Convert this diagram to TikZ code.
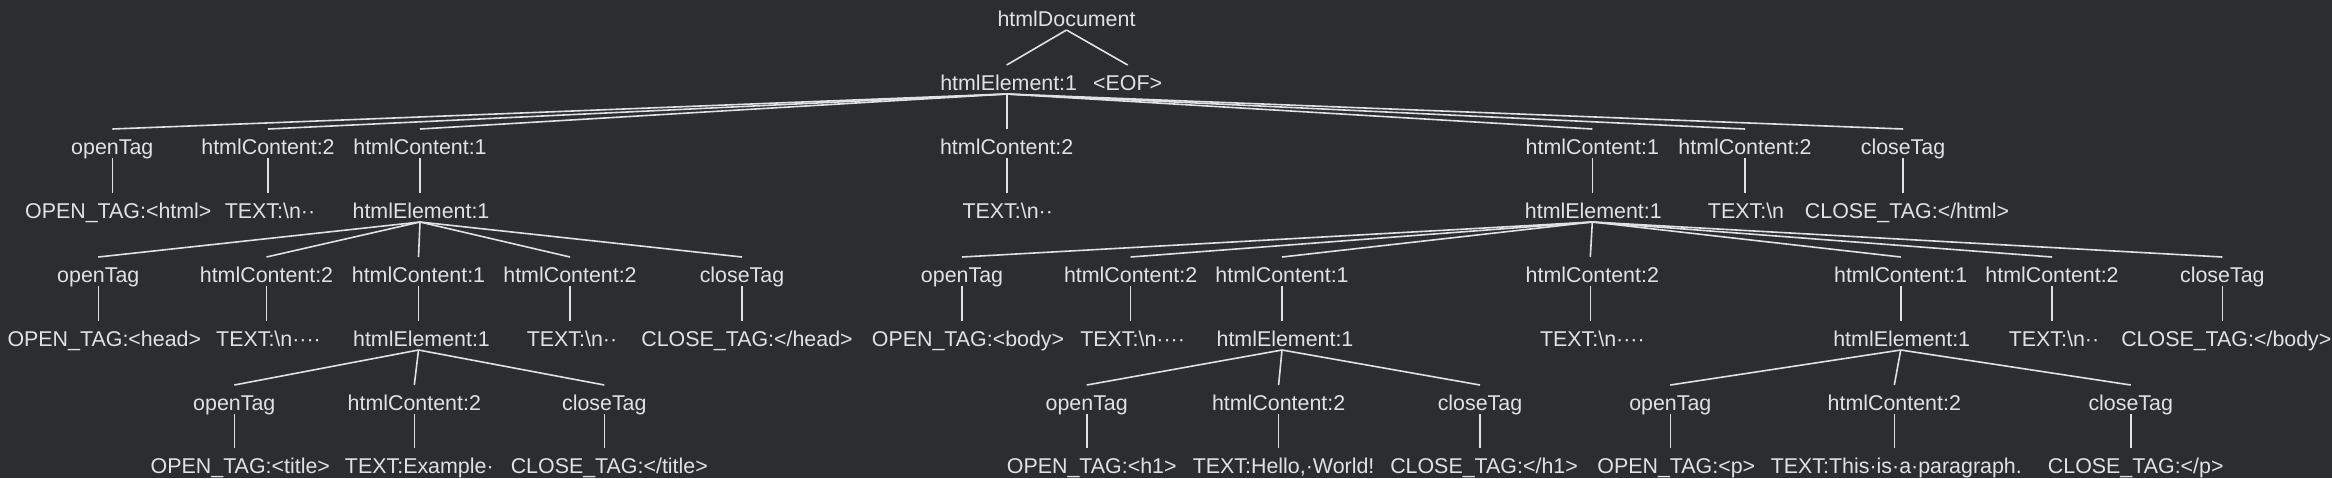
\documentclass[tikz,border=0pt]{standalone}
\usepackage{fontspec}
\setmainfont{Liberation Sans}
\definecolor{bg}{HTML}{2B2D30}
\definecolor{fg}{HTML}{DFE1E5}
\newcommand\sh[1]{\hspace*{#1pt}}
\newcommand\bs{\textbackslash}
\begin{document}
\begin{tikzpicture}[x=0.5pt,y=-0.5pt,
  tn/.style={anchor=base, inner sep=0pt, outer sep=0pt, text height=12.5pt, text depth=2pt, text=fg, font=\fontsize{10.7}{12}\selectfont},
  edge/.style={draw=fg, line width=0.8pt}]
\fill[bg] (0,0) rectangle (2332,478);
\useasboundingbox (0,0) rectangle (2332,478);
% row 0
\node[tn] (r0) at (1066.5,26) {htmlDocument};
% row 1
\node[tn] (r1a) at (1006.7,90) {\sh{2}htmlElement:1};
\node[tn] (r1b) at (1127.7,90) {<EOF>};
% row 2
\node[tn] (p1) at (112.3,154) {openTag};
\node[tn] (p2) at (268,154) {htmlContent:2};
\node[tn] (p3) at (420,154) {htmlContent:1};
\node[tn] (p4) at (1006.7,154) {htmlContent:2};
\node[tn] (p5) at (1592.3,154) {htmlContent:1};
\node[tn] (p6) at (1745,154) {htmlContent:2};
\node[tn] (p7) at (1903,154) {closeTag};
% row 3
\node[tn] (q1) at (112.3,218) {\sh{6}OPEN\_TAG:<html>};
\node[tn] (q2) at (268,218) {\sh{2}TEXT:\bs n··};
\node[tn] (q3) at (420,218) {\sh{1}htmlElement:1};
\node[tn] (q4) at (1006.7,218) {\sh{1}TEXT:\bs n··};
\node[tn] (q5) at (1592.3,218) {\sh{1}htmlElement:1};
\node[tn] (q6) at (1745,218) {\sh{1}TEXT:\bs n};
\node[tn] (q7) at (1903,218) {\sh{4}CLOSE\_TAG:</html>};
% row 4
\node[tn] (s1) at (98.3,282) {openTag};
\node[tn] (s2) at (266.5,282) {htmlContent:2};
\node[tn] (s3) at (418.5,282) {htmlContent:1};
\node[tn] (s4) at (570,282) {htmlContent:2};
\node[tn] (s5) at (742,282) {closeTag};
\node[tn] (s6) at (962,282) {openTag};
\node[tn] (s7) at (1130.6,282) {htmlContent:2};
\node[tn] (s8) at (1282,282) {htmlContent:1};
\node[tn] (s9) at (1590.3,282) {\sh{2}htmlContent:2};
\node[tn] (s10) at (1900.7,282) {htmlContent:1};
\node[tn] (s11) at (2052,282) {htmlContent:2};
\node[tn] (s12) at (2222.3,282) {closeTag};
% row 5
\node[tn] (t1) at (98.3,346) {\sh{6}OPEN\_TAG:<head>};
\node[tn] (t2) at (266.5,346) {\sh{2}TEXT:\bs n····};
\node[tn] (t3) at (418.5,346) {\sh{3}htmlElement:1};
\node[tn] (t4) at (570,346) {\sh{2}TEXT:\bs n··};
\node[tn] (t5) at (742,346) {\sh{5}CLOSE\_TAG:</head>};
\node[tn] (t6) at (962,346) {\sh{6}OPEN\_TAG:<body>};
\node[tn] (t7) at (1130.6,346) {\sh{2}TEXT:\bs n····};
\node[tn] (t8) at (1282,346) {\sh{3}htmlElement:1};
\node[tn] (t9) at (1590.3,346) {\sh{2}TEXT:\bs n····};
\node[tn] (t10) at (1900.7,346) {\sh{1}htmlElement:1};
\node[tn] (t11) at (2052,346) {\sh{2}TEXT:\bs n··};
\node[tn] (t12) at (2222.3,346) {\sh{4}CLOSE\_TAG:</body>};
% row 6
\node[tn] (u1) at (234.3,410) {openTag};
\node[tn] (u2) at (414.3,410) {htmlContent:2};
\node[tn] (u3) at (604.3,410) {closeTag};
\node[tn] (u4) at (1086.7,410) {openTag};
\node[tn] (u5) at (1278.6,410) {htmlContent:2};
\node[tn] (u6) at (1480,410) {closeTag};
\node[tn] (u7) at (1670.3,410) {openTag};
\node[tn] (u8) at (1894.3,410) {htmlContent:2};
\node[tn] (u9) at (2130.7,410) {closeTag};
% row 7
\node[tn] (v1) at (234.3,473) {\sh{6}OPEN\_TAG:<title>};
\node[tn] (v2) at (414.3,473) {\sh{5}TEXT:Example·};
\node[tn] (v3) at (604.3,473) {\sh{5}CLOSE\_TAG:</title>};
\node[tn] (v4) at (1086.7,473) {\sh{5}OPEN\_TAG:<h1>};
\node[tn] (v5) at (1278.6,473) {\sh{5}TEXT:Hello,·World!};
\node[tn] (v6) at (1480,473) {\sh{4}CLOSE\_TAG:</h1>};
\node[tn] (v7) at (1670.3,473) {\sh{6}OPEN\_TAG:<p>};
\node[tn] (v8) at (1894.3,473) {\sh{2}TEXT:This·is·a·paragraph.};
\node[tn] (v9) at (2130.7,473) {\sh{5}CLOSE\_TAG:</p>};
% edges
\draw[edge] (r0.south) -- (r1a.north);
\draw[edge] (r0.south) -- (r1b.north);
\foreach \c in {p1,p2,p3,p4,p5,p6,p7} \draw[edge] (r1a.south) -- (\c.north);
\draw[edge] (p1.south) -- (q1.north);
\draw[edge] (p2.south) -- (q2.north);
\draw[edge] (p3.south) -- (q3.north);
\draw[edge] (p4.south) -- (q4.north);
\draw[edge] (p5.south) -- (q5.north);
\draw[edge] (p6.south) -- (q6.north);
\draw[edge] (p7.south) -- (q7.north);
\foreach \c in {s1,s2,s3,s4,s5} \draw[edge] (q3.south) -- (\c.north);
\foreach \c in {s6,s7,s8,s9,s10,s11,s12} \draw[edge] (q5.south) -- (\c.north);
\foreach \i in {1,...,12} \draw[edge] (s\i.south) -- (t\i.north);
\foreach \c in {u1,u2,u3} \draw[edge] (t3.south) -- (\c.north);
\foreach \c in {u4,u5,u6} \draw[edge] (t8.south) -- (\c.north);
\foreach \c in {u7,u8,u9} \draw[edge] (t10.south) -- (\c.north);
\foreach \i in {1,...,9} \draw[edge] (u\i.south) -- (v\i.north);
\end{tikzpicture}
\end{document}
